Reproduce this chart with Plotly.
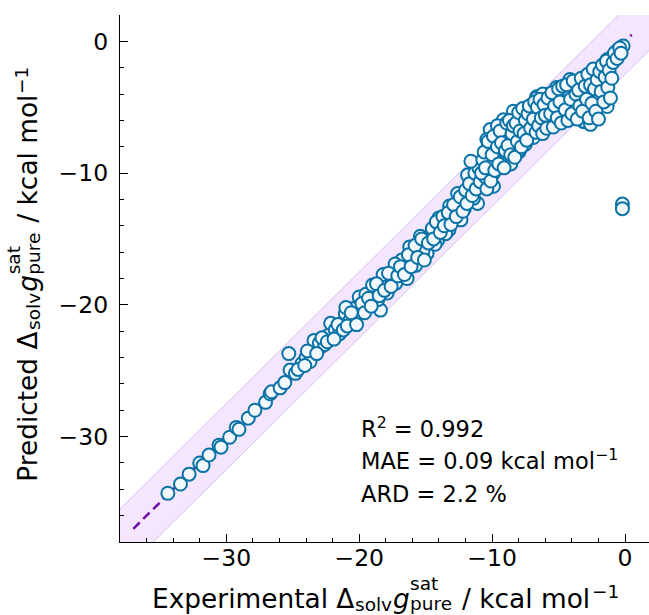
import plotly.graph_objects as go

# ---------------- data ----------------
exp_lower = [-34.4, -33.45, -32.8, -32.0, -31.75, -31.3, -30.55, -30.4, -29.75, -29.25,
             -29.05, -28.35, -27.85, -27.05, -26.7, -26.6, -25.95, -25.6, -25.2, -25.3,
             -24.3, -24.8]
pred_lower = [-34.3, -33.6, -32.85, -32.0, -32.2, -31.4, -30.65, -30.8, -30.05, -29.3,
              -29.45, -28.6, -28.0, -27.4, -26.75, -26.6, -26.3, -25.9, -24.95, -23.7,
              -24.45, -25.2]

exp_mid = [-23.5, -23.4, -22.9, -22.3, -22.15, -21.3, -21.05, -20.3, -20.15, -20.0,
           -19.4, -19.15, -18.4, -18.4, -17.9, -17.4, -17.25, -16.5, -16.4, -15.9,
           -15.75, -15.0, -14.9, -14.25, -14.1, -13.35, -13.25, -12.85, -12.35, -12.6,
           -12.0, -11.6, -11.85, -11.25, -11.1,
           -24.0, -23.7, -23.0, -22.6, -21.8, -21.5, -20.7, -20.5, -19.7, -19.5,
           -18.8, -18.6, -18.0, -17.6, -17.0, -16.8, -16.0, -15.5, -15.2, -14.6,
           -14.3, -13.8, -13.5, -13.0, -12.5, -12.1, -11.8, -11.4, -16.2, -15.4,
           -14.0, -13.2, -17.3, -18.2, -19.0, -21.0]
pred_mid = [-23.45, -22.7, -23.2, -22.3, -21.4, -21.4, -20.65, -20.9, -20.15, -19.4,
            -19.75, -19.0, -20.4, -18.6, -19.1, -17.7, -18.35, -17.25, -18.0, -16.1,
            -17.0, -15.35, -16.1, -14.45, -15.1, -13.55, -14.3, -12.8, -13.55, -11.55,
            -12.15, -11.3, -10.15, -10.4, -12.3,
            -24.0, -24.3, -22.9, -23.0, -21.9, -22.2, -21.2, -20.3, -20.2, -19.2,
            -18.9, -19.6, -18.3, -18.0, -17.3, -16.6, -16.5, -15.6, -15.9, -14.7,
            -15.4, -13.9, -14.6, -13.2, -12.2, -12.7, -11.6, -11.9, -15.6, -14.8,
            -13.4, -12.5, -16.9, -17.7, -18.5, -20.2]

exp_mid2 = [-24.6, -24.1, -23.9, -23.2, -22.8, -22.4, -21.9, -21.6, -21.2, -20.9,
            -20.6, -20.2, -19.8, -19.6, -19.3, -19.1, -18.7, -18.5, -18.1, -17.8,
            -17.6, -17.1, -16.9, -16.6, -16.3, -16.1, -15.8, -15.6, -15.3, -15.1,
            -14.8, -14.5, -14.4, -14.2, -13.9, -13.7, -13.6, -13.3, -13.1, -12.9,
            -12.7, -12.4, -12.2, -12.0, -11.9, -11.7, -11.5, -11.3, -11.2, -11.0]
pred_mid2 = [-24.9, -24.6, -23.5, -23.7, -22.5, -22.8, -22.6, -21.5, -21.9, -21.6,
             -20.6, -21.5, -19.9, -20.6, -19.5, -20.1, -18.4, -19.3, -18.9, -17.6,
             -18.6, -17.8, -17.1, -17.7, -16.2, -17.1, -15.5, -16.4, -15.0, -16.6,
             -15.3, -14.2, -15.0, -13.7, -14.5, -13.3, -14.0, -13.0, -13.9, -12.4,
             -13.3, -11.8, -12.9, -11.3, -12.3, -10.8, -11.7, -10.0, -11.2, -9.6]

exp_upper = [-11.6, -10.9, -10.7, -10.2, -9.9, -9.5, -9.2, -8.8, -8.5, -8.15,
             -7.9, -7.4, -7.15, -6.65, -6.4, -5.9, -5.65, -4.9, -4.75, -4.1,
             -3.85, -3.1, -2.35, -1.35, -2.35, -1.35, -2.85, -3.6, -2.1, -1.7,
             -0.15, -1.25, -1.65, -4.15, -5.15, -5.9, -6.65, -3.15, -2.15, -3.15,
             -8.4, -9.15, -10.15, -10.4,
             -9.7, -9.4, -9.0, -8.7, -8.3, -8.0, -7.7, -7.5, -7.2, -6.9,
             -6.7, -6.2, -6.0, -5.7, -5.4, -5.2, -5.0, -4.6, -4.4, -4.2,
             -3.8, -3.5, -3.3, -3.0, -2.7, -2.5, -2.0, -1.9, -1.5, -1.0,
             -0.7, -0.5, -10.5, -10.0, -9.9, -10.4, -7.9, -8.6, -2.6, -9.6,
             -7.0, -6.2]
pred_upper = [-9.1, -10.65, -9.0, -8.0, -10.0, -7.1, -8.75, -6.7, -8.0, -5.7,
              -7.35, -5.35, -7.0, -4.2, -6.2, -4.7, -6.0, -3.95, -5.45, -3.05,
              -4.85, -6.1, -4.95, -4.95, -2.3, -1.4, -3.7, -4.2, -3.95, -3.2,
              -0.35, -1.5, -2.15, -2.9, -3.5, -4.05, -4.3, -4.65, -4.55, -6.05,
              -5.3, -5.95, -6.7, -7.45,
              -9.2, -8.2, -7.6, -9.0, -7.2, -8.4, -6.4, -7.8, -6.1, -7.3,
              -5.4, -5.3, -6.6, -5.2, -4.5, -6.2, -5.0, -4.4, -5.8, -3.8,
              -3.4, -5.6, -3.1, -2.7, -5.3, -3.0, -2.6, -4.3, -2.0, -1.2,
              -0.8, -0.6, -10.3, -9.4, -11.0, -11.2, -8.2, -9.3, -6.3, -6.4,
              -4.8, -4.0]

exp_upper2 = [-10.8, -10.6, -10.5, -10.3, -10.1, -10.0, -9.9, -9.8, -9.6, -9.5,
              -9.4, -9.3, -9.1, -9.0, -8.9, -8.8, -8.7, -8.6, -8.5, -8.4,
              -8.3, -8.2, -8.1, -8.0, -7.9, -7.8, -7.7, -7.6, -7.5, -7.4,
              -7.3, -7.2, -7.1, -6.9, -6.8, -6.7, -6.6, -6.5, -6.4, -6.3,
              -6.2, -6.1, -6.0, -5.9, -5.8, -5.6, -5.5, -5.4, -5.3, -5.1,
              -5.0, -4.9, -4.8, -4.7, -4.5, -4.4, -4.3, -4.1, -4.0, -3.9,
              -3.7, -3.6, -3.5, -3.4, -3.3, -3.2, -3.0, -2.9, -2.8, -2.7,
              -2.6, -2.5, -2.4, -2.3, -2.2, -2.1, -1.9, -1.8, -1.7, -1.6,
              -1.5, -1.4, -1.3, -1.2, -1.1, -0.9, -0.8, -0.6, -0.4, -0.3,
              -1.0, -2.0]
pred_upper2 = [-10.0, -8.4, -9.6, -7.6, -10.6, -8.6, -7.2, -9.8, -8.0, -9.3,
               -6.8, -7.7, -9.6, -8.3, -6.2, -7.9, -6.0, -8.6, -7.0, -6.4,
               -8.8, -6.2, -7.6, -5.4, -6.8, -8.0, -5.1, -7.0, -6.0, -7.5,
               -5.5, -4.9, -6.6, -5.9, -4.6, -6.9, -5.0, -6.4, -4.4, -5.8,
               -7.0, -4.8, -5.6, -6.6, -4.3, -5.5, -3.9, -6.5, -4.9, -5.8,
               -3.6, -4.6, -6.2, -3.4, -5.2, -3.3, -6.0, -4.4, -5.5, -3.0,
               -4.0, -5.9, -3.7, -4.9, -2.8, -5.3, -3.4, -4.4, -2.5, -5.8,
               -3.3, -4.7, -2.1, -3.6, -5.3, -2.9, -2.3, -3.8, -1.8, -4.6,
               -2.7, -1.5, -3.5, -2.2, -4.3, -1.6, -0.9, -1.3, -0.5, -0.9,
               -2.8, -5.9]

exp_outlier = [-0.2, -0.2]
pred_outlier = [-12.35, -12.7]

axis_ticks = [-30, -20, -10, 0]
x_range = [-38, 1.8]
y_range = [-38, 2]
parity_span = [-37, 0.5]
band_halfwidth = 2.5
band_span = [-42, 6]
metric_lines = ["R<sup>2</sup> = 0.992",
                "MAE = 0.09 kcal mol<sup>\u22121</sup>",
                "ARD = 2.2 %"]

# ---------------- figure geometry ----------------
W_FIG, H_FIG = 649, 615
L, R, T, B = 120, 0, 15, 73
PW, PH = W_FIG - L - R, H_FIG - T - B
FONT = "DejaVu Sans"


def px2x(px):
    return (px - L) / PW


def py2y(py):
    return (T + PH - py) / PH


# DejaVu Sans advance widths (em)
ADV = {'E': .632, 'x': .592, 'p': .635, 'e': .615, 'r': .411, 'i': .278, 'm': .974,
       'n': .634, 't': .392, 'a': .613, 'l': .278, ' ': .318, 'Δ': .684, 's': .521,
       'o': .612, 'v': .592, 'g': .635, 'u': .634, 'd': .635, 'c': .550, 'k': .579,
       '/': .337, 'P': .603, '\u2212': .838, '1': .636}


def tw(s, size):
    return sum(ADV.get(c, .6) for c in s) * size


def title_layout(first, ft, st):
    k = ft / 26.0
    groups = [
        (0, [(first + " Δ", ft, 0)]),
        (0, [("solv", st, 6 * k)]),
        (1, [("g", ft, 0)]),
        (1, [("sat", st, -14 * k), ("pure", st, 5 * k)]),
        (1 + ADV[' '] * ft, [("/ kcal mol", ft, 0)]),
        (1, [("\u22121", st, -6 * k)]),
    ]
    out = []
    pos = 0
    for gap, items in groups:
        pos += gap
        w = 0
        for txt, sz, sh in items:
            out.append((txt, sz, sh, pos))
            w = max(w, tw(txt, sz))
        pos += w
    return out, pos


FT, ST = 26.4, 18.5
annotations = []
# x title
items, total = title_layout("Experimental", FT, ST)
x0 = L + PW / 2 - total / 2
for txt, sz, sh, pos in items:
    t = "<i>g</i>" if txt == "g" else txt
    annotations.append(dict(text=t, x=px2x(x0 + pos), y=py2y(598 + sh),
                            xref="paper", yref="paper", xanchor="left", yanchor="middle",
                            showarrow=False, borderpad=0,
                            font=dict(family=FONT, size=sz, color="black")))
# y title
items, total = title_layout("Predicted", FT, ST)
y0 = 275 + total / 2
for txt, sz, sh, pos in items:
    t = "<i>g</i>" if txt == "g" else txt
    annotations.append(dict(text=t, x=px2x(28 + sh), y=py2y(y0 - pos), textangle=-90,
                            xref="paper", yref="paper", xanchor="center", yanchor="bottom",
                            showarrow=False, borderpad=0,
                            font=dict(family=FONT, size=sz, color="black")))
# metrics
for i, line in enumerate(metric_lines):
    base = 437 + i * 32.5
    annotations.append(dict(text=line, x=px2x(360), y=py2y(base + 5.5),
                            xref="paper", yref="paper", xanchor="left", yanchor="bottom",
                            showarrow=False, borderpad=0,
                            font=dict(family=FONT, size=22.5, color="black")))

fig = go.Figure()
# tolerance band
bx = [band_span[0], band_span[1], band_span[1], band_span[0], band_span[0]]
by = [band_span[0] + band_halfwidth, band_span[1] + band_halfwidth,
      band_span[1] - band_halfwidth, band_span[0] - band_halfwidth,
      band_span[0] + band_halfwidth]
fig.add_trace(go.Scatter(x=bx, y=by, mode="lines", fill="toself",
                         fillcolor="rgba(236,214,252,0.6)",
                         line=dict(color="rgba(205,175,245,0.8)", width=1),
                         hoverinfo="skip", showlegend=False))
# parity line
fig.add_trace(go.Scatter(x=parity_span, y=parity_span, mode="lines",
                         line=dict(color="#6a0dad", width=2.5, dash="9px,5px"),
                         showlegend=False))
# points
xs = exp_lower + exp_mid + exp_mid2 + exp_upper + exp_upper2 + exp_outlier
ys = pred_lower + pred_mid + pred_mid2 + pred_upper + pred_upper2 + pred_outlier
fig.add_trace(go.Scatter(x=xs, y=ys, mode="markers",
                         marker=dict(size=13, color="#f2f8fc",
                                     line=dict(color="#0a72a6", width=2)),
                         showlegend=False))

axis_common = dict(showgrid=False, zeroline=False, showline=True, linecolor="black",
                   linewidth=1.3, ticks="inside", ticklen=8, tickwidth=1.3,
                   tickcolor="black", tickvals=axis_ticks,
                   tickfont=dict(family=FONT, size=23.5, color="black"),
                   minor=dict(ticks="inside", ticklen=4, tickwidth=1, dtick=2, tick0=0,
                              tickcolor="black", showgrid=False))
fig.update_xaxes(range=x_range, ticklabelstandoff=-5, **axis_common)
fig.update_yaxes(range=y_range, ticklabelstandoff=6, **axis_common)

fig.update_layout(width=W_FIG, height=H_FIG, autosize=False,
                  margin=dict(l=L, r=R, t=T, b=B),
                  paper_bgcolor="white", plot_bgcolor="white",
                  font=dict(family=FONT, color="black"),
                  annotations=annotations)

fig.write_html("out.html",
               config={"displayModeBar": False},
               post_script="document.body.style.margin='0px';"
                           "document.body.style.overflow='hidden';")
